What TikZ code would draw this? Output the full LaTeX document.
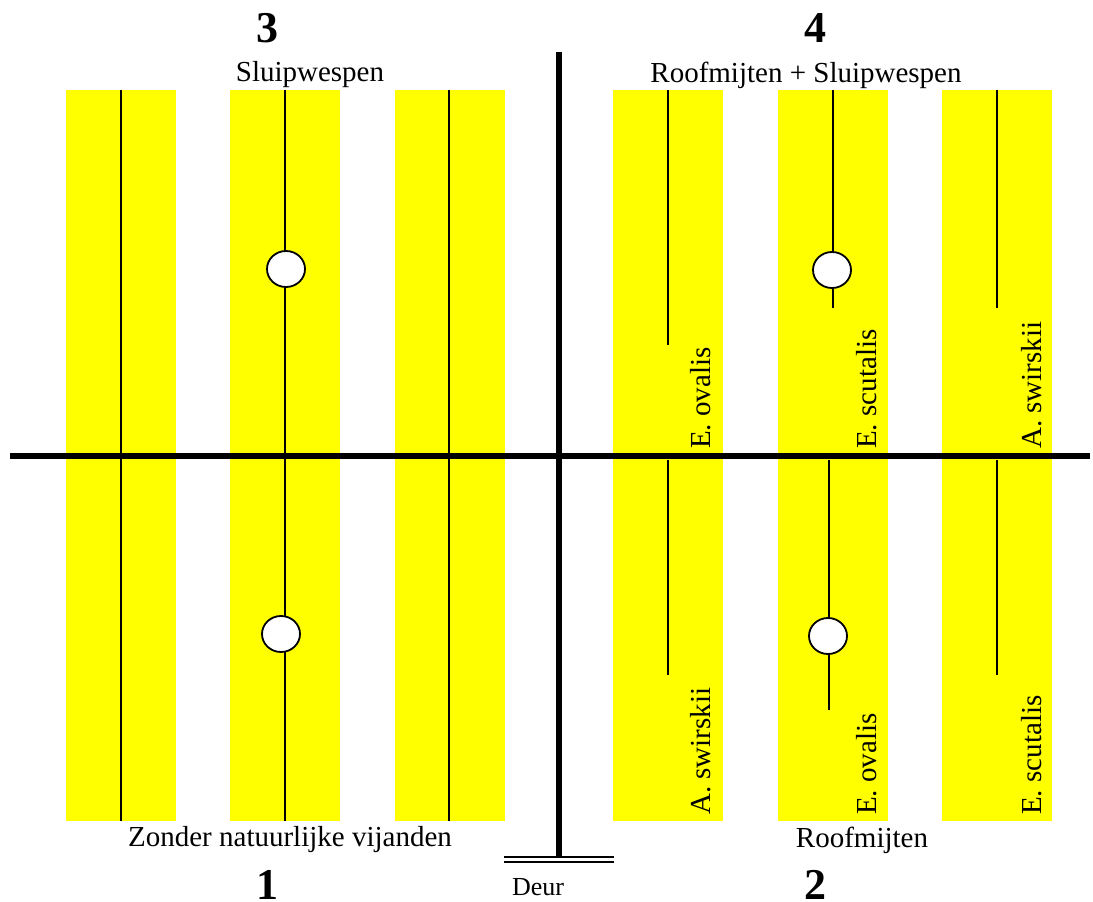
\documentclass[tikz,border=0pt]{standalone}
\usepackage{fontspec}
\setmainfont{Liberation Serif}
\usetikzlibrary{shapes.geometric}
\definecolor{stripyellow}{RGB}{255,255,0}
\begin{document}
\begin{tikzpicture}[x=1pt,y=-1pt,
  strip/.style={fill=stripyellow,draw=none},
  midline/.style={line width=1.4pt,black},
  wall/.style={line width=5.5pt,black},
  doorline/.style={line width=2.6pt,black},
  trap/.style={ellipse,draw,line width=1.8pt,fill=white,minimum width=38pt,minimum height=36pt,inner sep=0pt},
  lbl/.style={font=\fontsize{29}{30}\selectfont,inner sep=0pt},
  num/.style={font=\fontsize{44}{44}\selectfont\bfseries,inner sep=0pt},
  vlbl/.style={font=\fontsize{29}{30}\selectfont,inner sep=0pt,rotate=90,anchor=base west}]
\useasboundingbox (0,0) rectangle (1093,902);
% yellow strips
\foreach \a/\b in {66/176,230/340,395/505,613/723,778/888,942/1052}
  \fill[strip] (\a,90) rectangle (\b,821);
% left half: full lines
\draw[midline] (121,90) -- (121,821);
\draw[midline] (449,90) -- (449,821);
\draw[midline] (285,90) -- (285,821);
% right half lines
\draw[midline] (668,90) -- (668,345);
\draw[midline] (668,460) -- (668,675);
\draw[midline] (833,90) -- (833,308);
\draw[midline] (829,460) -- (829,710);
\draw[midline] (997,90) -- (997,308);
\draw[midline] (997,460) -- (997,675);
% traps
\node[trap] (t3) at (286,269) {};
\node[trap] (t1) at (281,634) {};
\node[trap] (t4) at (832,270) {};
\node[trap] (t2) at (828,636) {};
% walls
\draw[wall] (10,456) -- (1090,456);
\draw[wall] (559,52) -- (559,857);
% door
\draw[doorline] (504,857) -- (614,857);
\draw[doorline] (504,862) -- (614,862);
\node[font=\fontsize{26}{27}\selectfont,inner sep=0pt] (deur) at (538,887) {Deur};
% numbers
\node[num] (n3) at (267,28) {3};
\node[num] (n4) at (815,28) {4};
\node[num] (n1) at (267,885) {1};
\node[num] (n2) at (815,885) {2};
% quadrant labels
\node[lbl] (q3) at (310,75) {Sluipwespen};
\node[lbl] (q4) at (806,75) {Roofmijten + Sluipwespen};
\node[lbl] (q1) at (290,840) {Zonder natuurlijke vijanden};
\node[lbl] (q2) at (862,840) {Roofmijten};
% vertical labels
\node[vlbl] (v1) at (710,449) {E. ovalis};
\node[vlbl] (v2) at (876,449) {E. scutalis};
\node[vlbl] (v3) at (1041,449) {A. swirskii};
\node[vlbl] (v4) at (710,815) {A. swirskii};
\node[vlbl] (v5) at (876,815) {E. ovalis};
\node[vlbl] (v6) at (1041,815) {E. scutalis};
\end{tikzpicture}
\end{document}
